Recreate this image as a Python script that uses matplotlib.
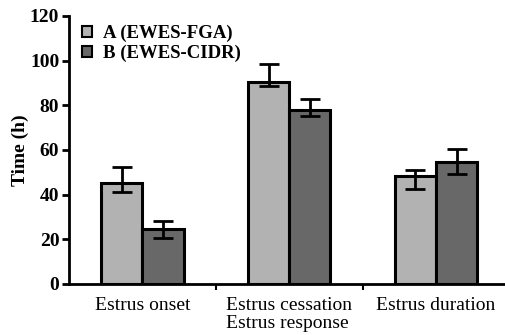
import numpy as np
import matplotlib.pyplot as plt

# data
categories = ['Estrus onset', 'Estrus cessation', 'Estrus duration']
series_names = ['A (EWES-FGA)', 'B (EWES-CIDR)']
a_mean = [45.1, 90.6, 48.4]
a_low = [41.0, 88.8, 42.5]
a_high = [52.2, 98.5, 51.0]
b_mean = [24.6, 77.9, 54.5]
b_low = [20.7, 75.2, 49.4]
b_high = [28.2, 82.7, 60.3]
y_ticks = [0, 20, 40, 60, 80, 100, 120]

colors = ['#b2b2b2', '#686868']
serif = ['Liberation Serif', 'DejaVu Serif']

fig = plt.figure(figsize=(5.05, 3.35), dpi=100)
ax = fig.add_axes([69 / 505, 1 - 284 / 335, (505 - 69) / 505, (284 - 16) / 335])

x = np.arange(len(categories)) + 0.5
w = 0.28
for i, (m, lo, hi) in enumerate([(a_mean, a_low, a_high), (b_mean, b_low, b_high)]):
    m = np.array(m)
    err = [m - np.array(lo), np.array(hi) - m]
    pos = x - w / 2 if i == 0 else x + w / 2
    ax.bar(pos, m, width=w, color=colors[i], edgecolor='black', linewidth=2.2,
           label=series_names[i], zorder=2)
    ax.errorbar(pos, m, yerr=err, fmt='none', ecolor='black', elinewidth=2,
                capsize=7, capthick=2, zorder=3)

ax.set_xlim(0, 2.97)
ax.set_ylim(0, 120)
ax.set_yticks(y_ticks)
ax.set_yticklabels([str(t) for t in y_ticks], fontfamily=serif, fontweight='bold', fontsize=14)
ax.set_xticks([1, 2])
ax.set_xticklabels([])
ax.set_xticks(x, minor=True)
ax.set_xticklabels(categories, minor=True, fontfamily=serif, fontsize=14)
ax.tick_params(axis='x', which='minor', length=0, pad=9)
ax.tick_params(axis='x', which='major', length=4, width=1.5)
ax.tick_params(axis='y', length=5, width=2, pad=2)

for s in ['top', 'right']:
    ax.spines[s].set_visible(False)
for s in ['left', 'bottom']:
    ax.spines[s].set_linewidth(2)

ax.set_ylabel('Time (h)', fontfamily=serif, fontsize=14, fontweight='bold', labelpad=1)
ax.set_xlabel('Estrus response', fontfamily=serif, fontsize=14, labelpad=1)

leg = ax.legend(loc='upper left', bbox_to_anchor=(-0.01, 1.03), frameon=False,
                handlelength=0.55, handleheight=0.55, handletextpad=0.6,
                labelspacing=0.15, prop={'family': serif, 'size': 13.5, 'weight': 'bold'})
for h in leg.legend_handles:
    h.set_linewidth(1.5)

fig.savefig('out.png', dpi=100)
